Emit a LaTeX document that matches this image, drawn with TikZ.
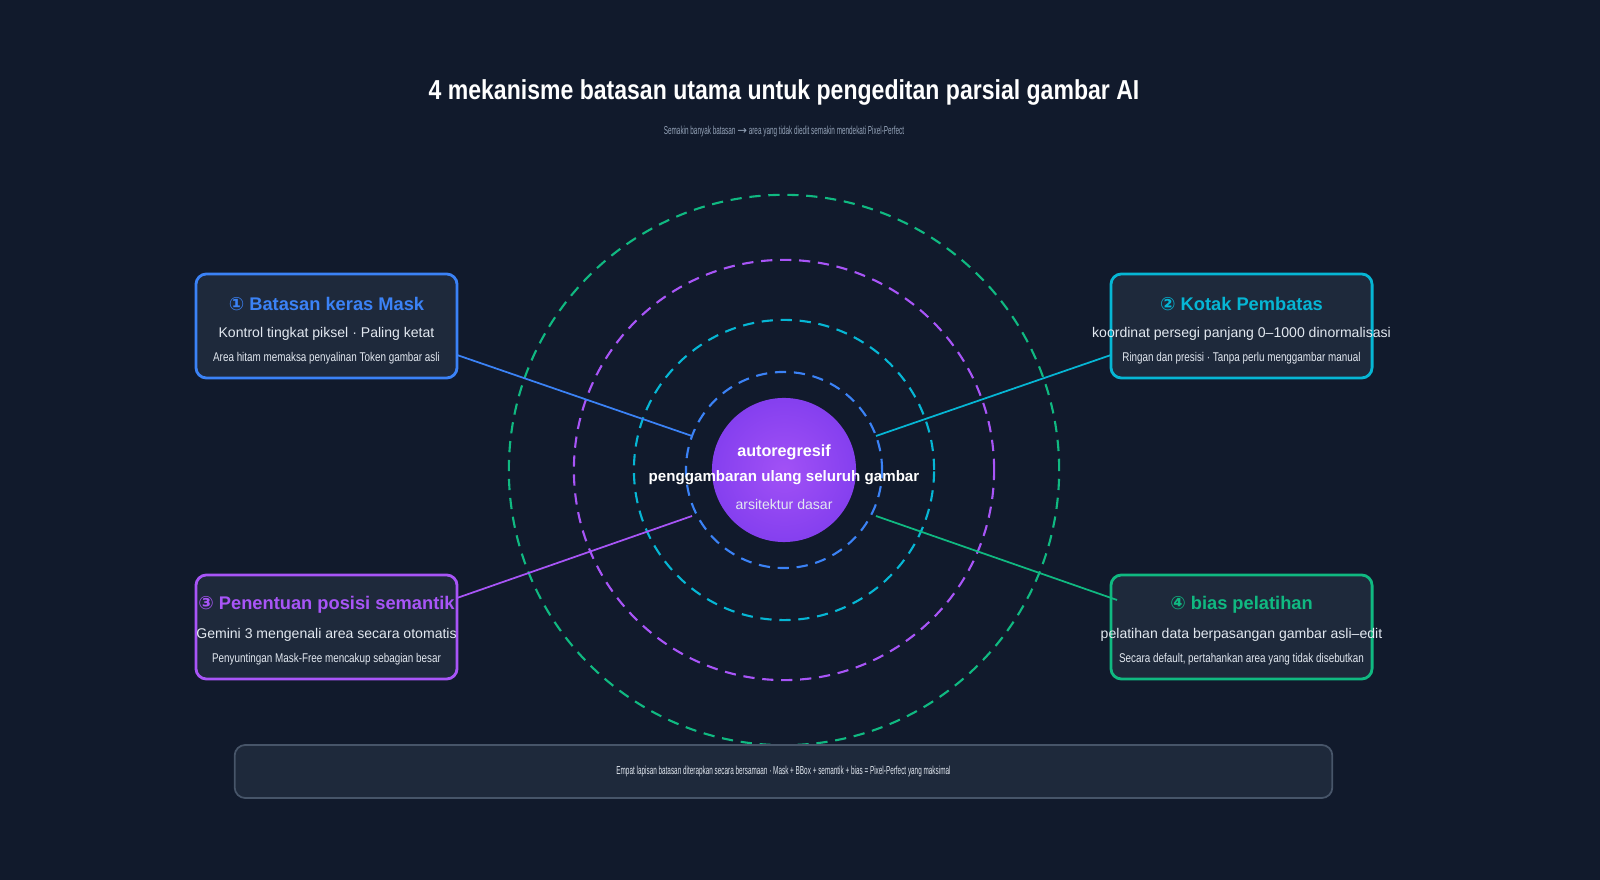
\documentclass[tikz,border=0pt]{standalone}
\usepackage{fontspec}
\setmainfont{Liberation Sans}
\newfontfamily\symfont{DejaVu Sans}
\newfontfamily\narrowfont{Liberation Sans}[FakeStretch=0.78]
\newfontfamily\slimfont{Liberation Sans}[FakeStretch=0.55]
\newfontfamily\titlefont{Liberation Sans Bold}[FakeStretch=0.84]
\definecolor{bgc}{HTML}{111A2C}
\definecolor{boxc}{HTML}{1E293B}
\definecolor{mblue}{HTML}{3B82F6}
\definecolor{mcyan}{HTML}{06B6D4}
\definecolor{mpurple}{HTML}{A855F7}
\definecolor{mgreen}{HTML}{10B981}
\definecolor{coreA}{HTML}{7C3AED}
\definecolor{txtc}{HTML}{E2E8F0}
\definecolor{subc}{HTML}{94A3B8}
\definecolor{edgec}{HTML}{475569}
\tikzset{
  ring/.style={draw=#1, dash pattern=on 3.2pt off 2.2pt, line width=0.6pt},
  card/.style={draw=#1, fill=boxc, rounded corners=3pt, line width=0.8pt,
    minimum width=2.61cm, minimum height=1.04cm},
  head/.style={text=#1, font=\fontsize{5.2}{6}\selectfont\bfseries},
  line1/.style={text=txtc, font=\fontsize{4}{5}\selectfont},
  line2/.style={text=txtc, font=\narrowfont\fontsize{3.6}{4.5}\selectfont},
  link/.style={draw=#1, line width=0.5pt}
}
\begin{document}
\begin{tikzpicture}[x=0.01cm,y=-0.01cm]
\fill[bgc] (0,0) rectangle (1600,880);
\useasboundingbox (0,0) rectangle (1600,880);
% title
\node[text=white, font=\titlefont\fontsize{7.8}{9}\selectfont] (title) at (784,92) {4 mekanisme batasan utama untuk pengeditan parsial gambar AI};
\node[text=subc, font=\slimfont\fontsize{3.3}{4}\selectfont] (subtitle) at (784,132) {Semakin banyak batasan {\symfont→} area yang tidak diedit semakin mendekati Pixel-Perfect};
% rings
\coordinate (c) at (784,470);
\draw[ring=mgreen] (c) circle (2.75cm);
\draw[ring=mpurple] (c) circle (2.10cm);
\draw[ring=mcyan] (c) circle (1.50cm);
\draw[ring=mblue] (c) circle (0.98cm);
\shade[inner color=mpurple!85!coreA, outer color=coreA!80!mpurple] (c) circle (0.72cm);
\node[text=white, font=\fontsize{4.6}{5.5}\selectfont\bfseries] (core1) at (784,452) {autoregresif};
\node[text=white, font=\fontsize{4.3}{5}\selectfont\bfseries] (core2) at (784,478) {penggambaran ulang seluruh gambar};
\node[text=txtc, font=\fontsize{4}{5}\selectfont] (core3) at (784,504) {arsitektur dasar};
% cards
\node[card=mblue] (mask) at (326.5,326) {};
\node[card=mcyan] (bbox) at (1241.5,326) {};
\node[card=mpurple] (sem) at (326.5,627) {};
\node[card=mgreen] (bias) at (1241.5,627) {};
\node[head=mblue] at (326.5,304) {{\symfont ①} Batasan keras Mask};
\node[line1] at (326.5,334) {Kontrol tingkat piksel · Paling ketat};
\node[line2] at (326.5,358) {Area hitam memaksa penyalinan Token gambar asli};
\node[head=mcyan] at (1241.5,304) {{\symfont ②} Kotak Pembatas};
\node[line1] at (1241.5,334) {koordinat persegi panjang 0–1000 dinormalisasi};
\node[line2] at (1241.5,358) {Ringan dan presisi · Tanpa perlu menggambar manual};
\node[head=mpurple] at (326.5,605) {{\symfont ③} Penentuan posisi semantik};
\node[line1] at (326.5,635) {Gemini 3 mengenali area secara otomatis};
\node[line2] at (326.5,659) {Penyuntingan Mask-Free mencakup sebagian besar};
\node[head=mgreen] at (1241.5,605) {{\symfont ④} bias pelatihan};
\node[line1] at (1241.5,635) {pelatihan data berpasangan gambar asli–edit};
\node[line2] at (1241.5,659) {Secara default, pertahankan area yang tidak disebutkan};
% links
\coordinate (m) at (692,436);
\coordinate (b) at (876,436);
\coordinate (s) at (692,516);
\coordinate (t) at (876,516);
\draw[link=mblue] (457,355) -- (m);
\draw[link=mcyan] (1111,355) -- (b);
\draw[link=mpurple] (457,598) -- (s);
\draw[link=mgreen] (1117,600) -- (t);
% footer
\node[draw=edgec, fill=boxc, rounded corners=3pt, line width=0.5pt,
  minimum width=10.97cm, minimum height=0.53cm] (footer) at (783.5,771.5) {};
\node[text=txtc, font=\slimfont\fontsize{3.3}{4}\selectfont] at (footer) {Empat lapisan batasan diterapkan secara bersamaan · Mask + BBox + semantik + bias = Pixel-Perfect yang maksimal};
\end{tikzpicture}
\end{document}
